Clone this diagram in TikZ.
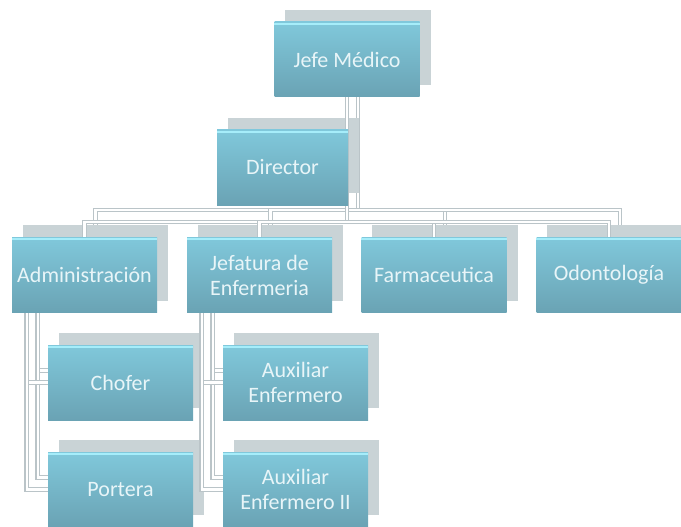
\documentclass[tikz,border=0pt]{standalone}
\usepackage{fontspec}
\setmainfont{Carlito}

\definecolor{boxtop}{HTML}{80C8DB}
\definecolor{boxbottom}{HTML}{6AA3B4}
\definecolor{boxglint}{HTML}{A6EDFA}
\definecolor{boxshade}{HTML}{C9D3D6}
\definecolor{linkgray}{HTML}{BAC4C8}
\definecolor{boxtext}{HTML}{E8F5F8}

\pgfdeclarelayer{shade}
\pgfdeclarelayer{links}
\pgfsetlayers{shade,links,main}

\tikzset{
  unit/.style={rectangle, minimum width=145pt, minimum height=75pt, inner sep=0pt,
    top color=boxtop, bottom color=boxbottom, text=boxtext, align=center,
    font=\fontsize{22}{25}\selectfont},
  link/.style={draw=linkgray, line width=1.2pt, double=white, double distance=2.4pt},
  glint/.style={draw=boxglint, line width=2pt}
}

% all connectors of the chart, used for the front copy and the shadow copy
\newcommand{\orglinks}{%
  \draw[link] (jefe) -- (bus);
  \draw[link] (jefe.south |- dir.east) -- (dir.east);
  \foreach \n in {adm,jef,farm,odon} \draw[link] (bus) -| (\n.north);
  \foreach \n in {chof,port} \draw[link] ([xshift=15pt]adm.south west) |- (\n.west);
  \foreach \n in {aux,auxii} \draw[link] ([xshift=15pt]jef.south west) |- (\n.west);
}

\begin{document}
\begin{tikzpicture}[x=1pt,y=-1pt]
\useasboundingbox (0,0) rectangle (681,527);
% boxes
\node[unit] (jefe) at (347,59.5) {Jefe Médico};
\node[unit, minimum width=131pt] (dir) at (282.5,167.5) {Director};
\node[unit] (adm) at (84.5,275) {Administración};
\node[unit] (jef) at (259.5,275) {Jefatura de\\Enfermeria};
\node[unit] (farm) at (434,275) {Farmaceutica};
\node[unit] (odon) at (609,275) {Odontología};
\node[unit] (chof) at (120.5,382.5) {Chofer};
\node[unit] (port) at (120.5,489.5) {Portera};
\node[unit] (aux) at (295.5,382.5) {Auxiliar\\Enfermero};
\node[unit] (auxii) at (295.5,489.5) {Auxiliar\\Enfermero II};
\coordinate (bus) at (347,222);
% shadows
\begin{pgfonlayer}{shade}
\begin{scope}[transform canvas={shift={(11pt,12pt)}}]
  \orglinks
  \foreach \n in {jefe,dir,adm,jef,farm,odon,chof,port,aux,auxii}
    \fill[boxshade] (\n.south west) rectangle (\n.north east);
\end{scope}
\end{pgfonlayer}
% connectors
\begin{pgfonlayer}{links}
  \orglinks
\end{pgfonlayer}
\foreach \n in {jefe,dir,adm,jef,farm,odon,chof,port,aux,auxii}
  \draw[glint] ([yshift=-2pt]\n.north west) -- ([yshift=-2pt]\n.north east);
\end{tikzpicture}
\end{document}
